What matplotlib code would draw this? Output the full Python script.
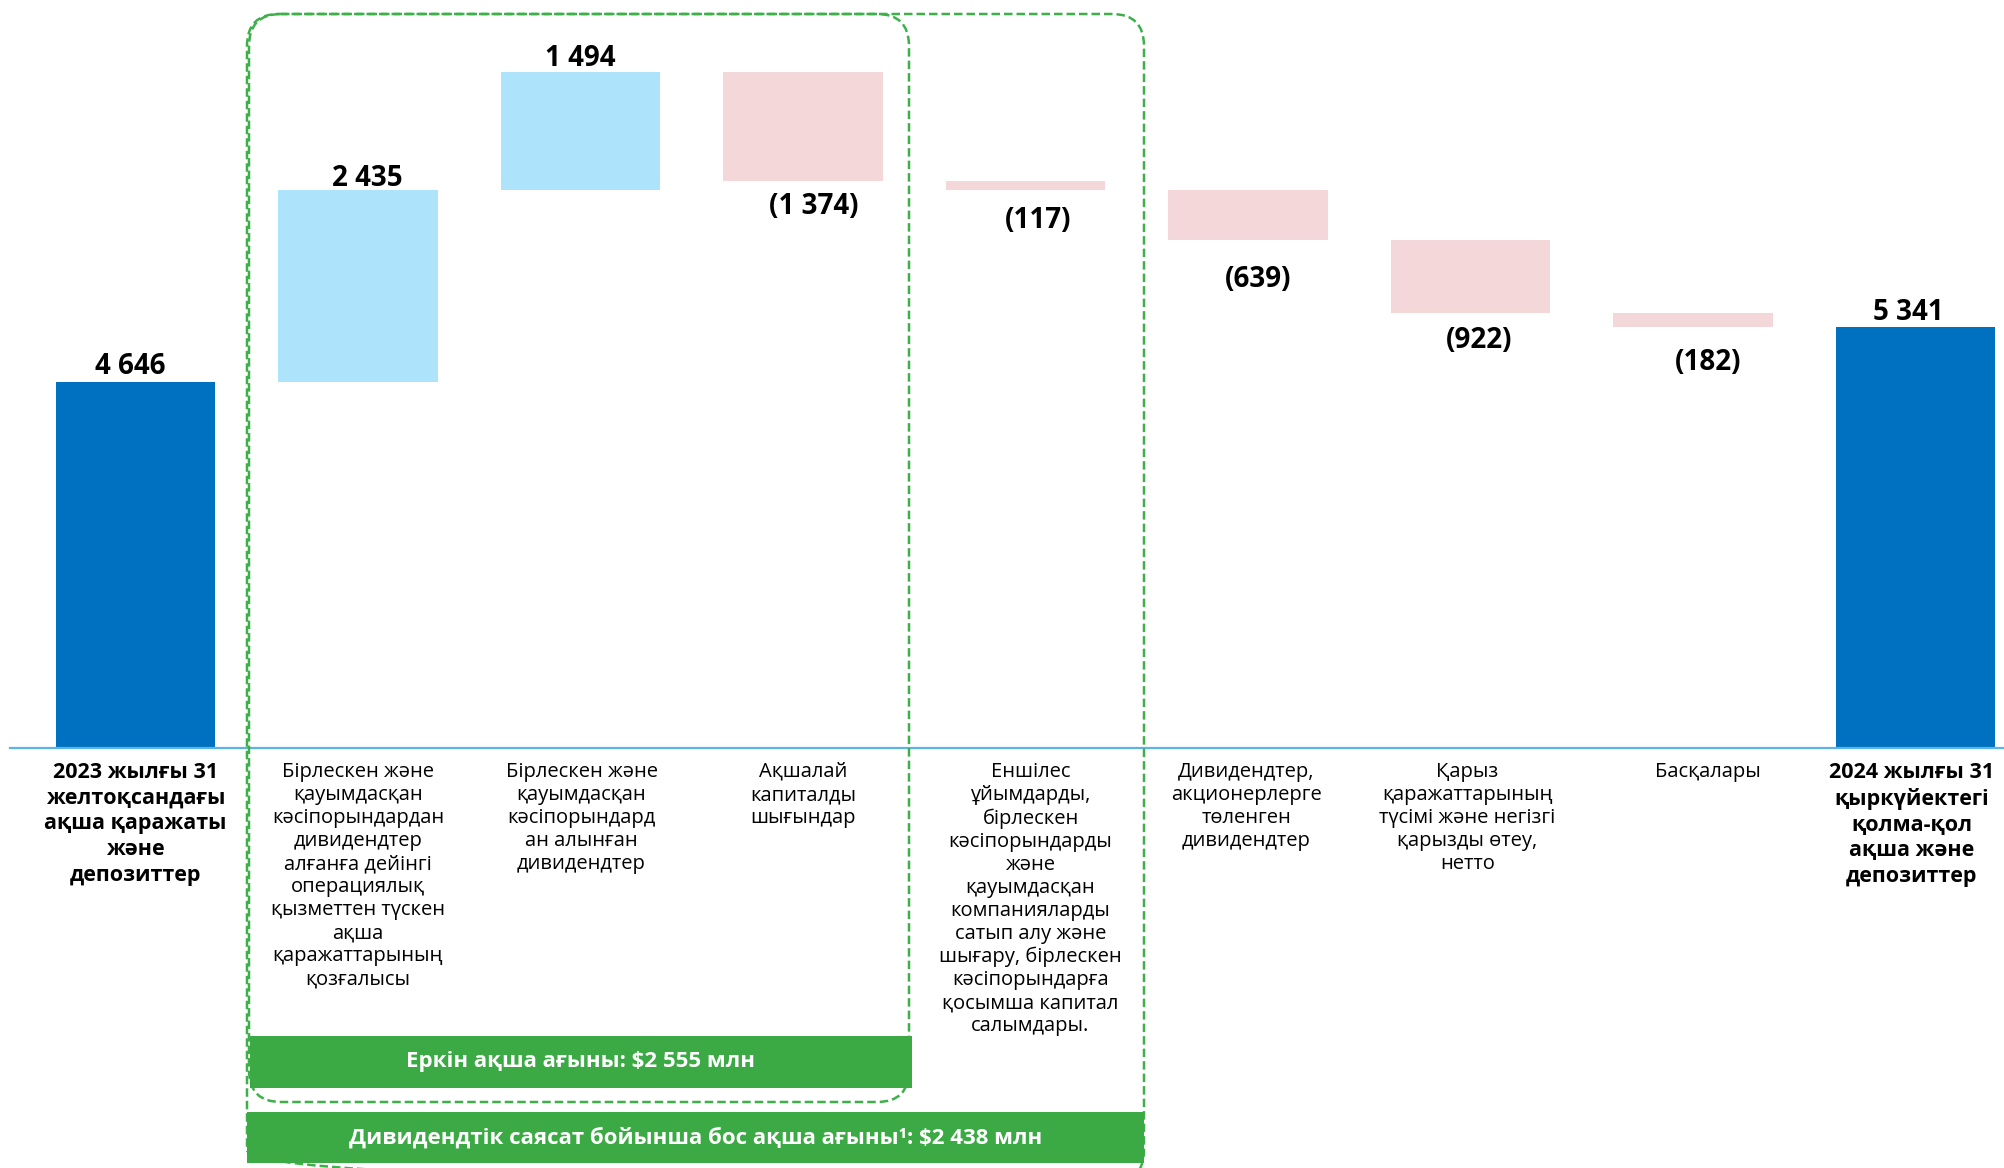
import matplotlib
matplotlib.use("Agg")
import matplotlib.pyplot as plt
from matplotlib.patches import FancyBboxPatch, Rectangle

plt.rcParams['font.family'] = ['Open Sans', 'DejaVu Sans']

# ---------------- data ----------------
categories = [
    "2023 жылғы 31\nжелтоқсандағы\nақша қаражаты\nжәне\nдепозиттер",
    "Бірлескен және\nқауымдасқан\nкәсіпорындардан\nдивидендтер\nалғанға дейінгі\nоперациялық\nқызметтен түскен\nақша\nқаражаттарының\nқозғалысы",
    "Бірлескен және\nқауымдасқан\nкәсіпорындард\nан алынған\nдивидендтер",
    "Ақшалай\nкапиталды\nшығындар",
    "Еншілес\nұйымдарды,\nбірлескен\nкәсіпорындарды\nжәне\nқауымдасқан\nкомпанияларды\nсатып алу және\nшығару, бірлескен\nкәсіпорындарға\nқосымша капитал\nсалымдары.",
    "Дивидендтер,\nакционерлерге\nтөленген\nдивидендтер",
    "Қарыз\nқаражаттарының\nтүсімі және негізгі\nқарызды өтеу,\nнетто",
    "Басқалары",
    "2024 жылғы 31\nқыркүйектегі\nқолма-қол\nақша және\nдепозиттер",
]
start_value = 4646
changes = [2435, 1494, -1374, -117, -639, -922, -182]
end_value = 5341
value_labels = ["4 646", "2 435", "1 494", "(1 374)", "(117)", "(639)", "(922)", "(182)", "5 341"]
banner_fcf = "Еркін ақша ағыны: $2 555 млн"
banner_div = "Дивидендтік саясат бойынша бос ақша ағыны¹: $2 438 млн"

# ---------------- style ----------------
C_TOTAL = "#0070C0"
C_POS = "#AEE3FC"
C_NEG = "#F4D7D9"
C_GREEN = "#3BAA44"
C_DASH = "#3DB04A"
C_AXIS = "#5AB4E5"

W, H = 2004, 1168
fig = plt.figure(figsize=(W / 100, H / 100), dpi=100)

# main data axes (full figure); mapping tuned to the reference layout
ax = fig.add_axes([0, 0, 1, 1])
px_x0, px_dx = 135.5, 222.5          # pixel centre of first bar, spacing
base_px, upp = 748.0, 12.69          # baseline pixel row, units per pixel
ax.set_xlim(-px_x0 / px_dx, (W - px_x0) / px_dx)
ax.set_ylim(-(H - base_px) * upp, base_px * upp)
ax.axis("off")

# overlay in pixel coordinates (y downwards)
ov = fig.add_axes([0, 0, 1, 1], facecolor="none")
ov.set_xlim(0, W)
ov.set_ylim(H, 0)
ov.axis("off")

n = len(categories)
bottoms, heights, colors = [], [], []
bottoms.append(0); heights.append(start_value); colors.append(C_TOTAL)
run = start_value
for c in changes:
    if c >= 0:
        bottoms.append(run); heights.append(c); colors.append(C_POS)
    else:
        bottoms.append(run + c); heights.append(-c); colors.append(C_NEG)
    run += c
bottoms.append(0); heights.append(end_value); colors.append(C_TOTAL)

xs = list(range(n))
ax.bar(xs, heights, bottom=bottoms, width=0.715, color=colors, zorder=2)

# baseline
ax.plot([(10 - px_x0) / px_dx, (W - px_x0) / px_dx], [0, 0], color=C_AXIS, lw=1.6, zorder=3)

# value labels
signs = [1] + [1 if c >= 0 else -1 for c in changes] + [1]
lab_dx = [-5, 9, 0, 11, 13, 10, 9, 15, -7]
lab_dy = [15, 12, 14, 26, 31, 39, 28, 35, 15]
for i in range(n):
    if signs[i] > 0:
        y = bottoms[i] + heights[i]
        dy = lab_dy[i]
    else:
        y = bottoms[i]
        dy = -lab_dy[i]
    ax.annotate(value_labels[i], xy=(i, y), xytext=(lab_dx[i], dy),
                textcoords="offset pixels", ha="center", va="center",
                fontsize=20, fontweight="bold", color="black", zorder=5)

# category labels
cat_dx = [0, 0, 1, 0, 5, -2, -3, 15, -4]
for i, txt in enumerate(categories):
    bold = i in (0, n - 1)
    ax.annotate(txt, xy=(i, 0), xytext=(cat_dx[i], -14), textcoords="offset pixels",
                ha="center", va="top", multialignment="center",
                fontsize=15.5 if bold else 14.5, fontweight="bold" if bold else "normal",
                linespacing=1.29 if bold else 1.20, color="black")

# dashed rounded boxes (pixel coords)
box_out = FancyBboxPatch((247, 14), 1144 - 247, 1182 - 14,
                         boxstyle="round,pad=0,rounding_size=32",
                         fill=False, edgecolor=C_DASH, lw=1.8,
                         linestyle=(0, (3.4, 1.6)), zorder=6, clip_on=False)
box_in = FancyBboxPatch((249, 14), 909 - 249, 1102 - 14,
                        boxstyle="round,pad=0,rounding_size=32",
                        fill=False, edgecolor=C_DASH, lw=1.8,
                        linestyle=(0, (3.4, 1.6)), zorder=6, clip_on=False)
ov.add_patch(box_out)
ov.add_patch(box_in)

# green banners
ov.add_patch(Rectangle((250, 1036), 912 - 250, 1088 - 1036, facecolor=C_GREEN,
                       edgecolor="none", zorder=7))
ov.add_patch(Rectangle((247, 1112), 1144 - 247, 1163 - 1112, facecolor=C_GREEN,
                       edgecolor="none", zorder=7))
ov.text((250 + 912) / 2, 1062, banner_fcf, ha="center", va="center", color="white",
        fontsize=16, fontweight="bold", zorder=8, parse_math=False)
ov.text((247 + 1144) / 2, 1138, banner_div, ha="center", va="center", color="white",
        fontsize=16, fontweight="bold", zorder=8, parse_math=False)

fig.savefig("out.png", dpi=100)
